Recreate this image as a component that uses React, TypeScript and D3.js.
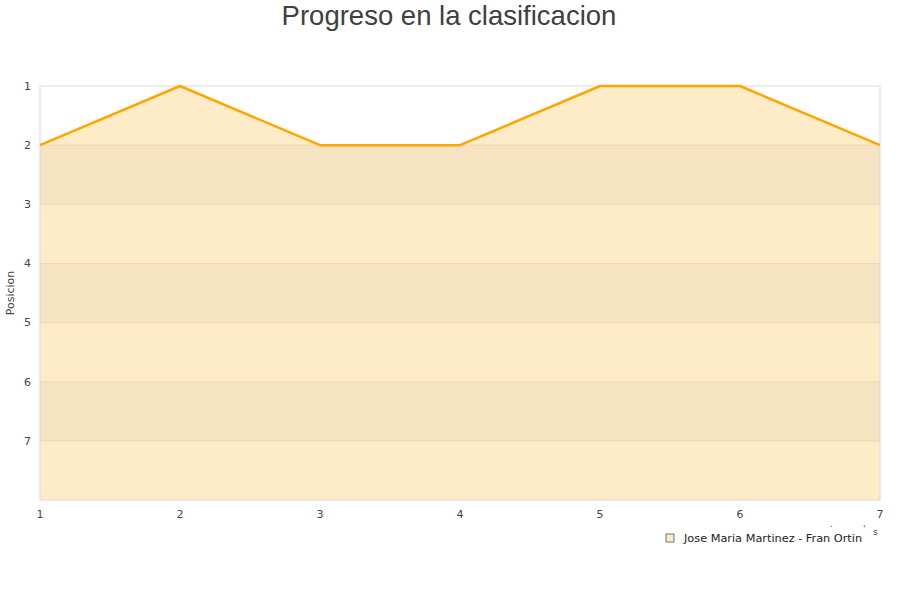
import { useEffect, useRef } from "react";
import * as d3 from "d3";

const rounds = [1, 2, 3, 4, 5, 6, 7];
const positions = [2, 1, 2, 2, 1, 1, 2];
const yTicks = [1, 2, 3, 4, 5, 6, 7];
const bands = [
  [2, 3],
  [4, 5],
  [6, 7],
];
const seriesName = "Jose Maria Martinez - Fran Ortin";
const chartTitle = "Progreso en la clasificacion";

const W = 900;
const H = 600;
const margin = { top: 86, right: 20, bottom: 100, left: 40 };

export default function App() {
  const svgRef = useRef<SVGSVGElement>(null);

  useEffect(() => {
    const svg = d3.select(svgRef.current);
    svg.selectAll("*").remove();

    const x = d3
      .scaleLinear()
      .domain([1, 7])
      .range([margin.left, W - margin.right]);
    const y = d3
      .scaleLinear()
      .domain([1, 8])
      .range([margin.top, H - margin.bottom]);

    svg.append("rect").attr("width", W).attr("height", H).attr("fill", "#fff");

    // title
    svg
      .append("text")
      .attr("x", W / 2 - 1)
      .attr("y", 25)
      .attr("text-anchor", "middle")
      .style("font-family", "'Liberation Sans', Arial, sans-serif")
      .style("font-size", "27.5px")
      .style("fill", "#404040")
      .text(chartTitle);

    const pts = rounds.map((r, i) => [r, positions[i]] as [number, number]);

    const area = d3
      .area<[number, number]>()
      .x((d) => x(d[0]))
      .y0(y(8))
      .y1((d) => y(d[1]));
    const line = d3
      .line<[number, number]>()
      .x((d) => x(d[0]))
      .y((d) => y(d[1]));

    svg
      .append("defs")
      .append("clipPath")
      .attr("id", "areaClip")
      .append("path")
      .attr("d", area(pts)!);

    svg
      .append("path")
      .attr("d", area(pts)!)
      .attr("fill", "#feecc9");

    // darker bands, only under the line
    svg
      .append("g")
      .attr("clip-path", "url(#areaClip)")
      .selectAll("rect")
      .data(bands)
      .join("rect")
      .attr("x", x(1))
      .attr("width", x(7) - x(1))
      .attr("y", (d) => y(d[0]))
      .attr("height", (d) => y(d[1]) - y(d[0]))
      .attr("fill", "#f6e3c2");

    // grid lines
    svg
      .append("g")
      .attr("clip-path", "url(#areaClip)")
      .selectAll("line")
      .data(yTicks.slice(1))
      .join("line")
      .attr("x1", x(1))
      .attr("x2", x(7))
      .attr("y1", (d) => y(d))
      .attr("y2", (d) => y(d))
      .attr("stroke", "#ecd6ad")
      .attr("stroke-width", 1);

    // plot border
    svg
      .append("rect")
      .attr("x", x(1))
      .attr("y", y(1))
      .attr("width", x(7) - x(1))
      .attr("height", y(8) - y(1))
      .attr("fill", "none")
      .attr("stroke", "#d9d9d9")
      .attr("stroke-width", 1);

    svg
      .append("path")
      .attr("d", line(pts)!)
      .attr("fill", "none")
      .attr("stroke", "#ffa500")
      .attr("stroke-width", 2.5)
      .attr("stroke-linejoin", "round");

    const tickFont = "'DejaVu Sans', Verdana, sans-serif";

    // x labels
    svg
      .append("g")
      .selectAll("text")
      .data(rounds)
      .join("text")
      .attr("x", (d) => x(d))
      .attr("y", 518)
      .attr("text-anchor", "middle")
      .style("font-family", tickFont)
      .style("font-size", "11px")
      .style("fill", "#444")
      .text((d) => String(d));

    // y labels
    svg
      .append("g")
      .selectAll("text")
      .data(yTicks)
      .join("text")
      .attr("x", 31)
      .attr("y", (d) => y(d))
      .attr("dy", "0.35em")
      .attr("text-anchor", "end")
      .style("font-family", tickFont)
      .style("font-size", "11px")
      .style("fill", "#444")
      .text((d) => String(d));

    svg
      .append("text")
      .attr("transform", `translate(14,${(y(1) + y(8)) / 2}) rotate(-90)`)
      .attr("text-anchor", "middle")
      .style("font-family", tickFont)
      .style("font-size", "11px")
      .style("fill", "#444")
      .text("Posicion");

    // clipped x axis title fragments
    const frag = svg
      .append("g")
      .style("font-family", tickFont)
      .style("font-size", "9px")
      .style("fill", "#444");
    frag.append("text").attr("x", 830).attr("y", 527).text(".");
    frag.append("text").attr("x", 863).attr("y", 532).text("'");
    frag.append("text").attr("x", 873).attr("y", 535).text("s");

    // legend
    const lg = svg.append("g").attr("transform", "translate(666,534)");
    lg.append("rect")
      .attr("width", 8)
      .attr("height", 8)
      .attr("fill", "#feecc9")
      .attr("stroke", "#555")
      .attr("stroke-width", 0.8);
    lg.append("text")
      .attr("x", 18)
      .attr("y", 8)
      .style("font-family", tickFont)
      .style("font-size", "11.3px")
      .style("fill", "#222")
      .text(seriesName);
  }, []);

  return (
    <svg
      ref={svgRef}
      width={W}
      height={H}
      style={{ position: "absolute", left: 0, top: 0 }}
    />
  );
}
